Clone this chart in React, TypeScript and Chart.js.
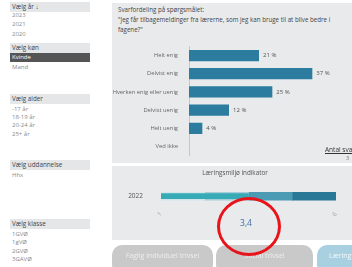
import React, { useEffect, useRef } from "react";
import { Chart, registerables } from "chart.js";

Chart.register(...registerables);

const answerCategories = ["Helt enig", "Delvist enig", "Hverken enig eller uenig", "Delvist uenig", "Helt uenig", "Ved ikke"];
const answerShares = [21, 37, 25, 12, 4, 0];

const indicatorYears = ["2022"];
const indicatorValue = 3.4;
const indicatorBands = [1.0, 2.2, 3.4, 4.6, 5.8];
const bandColors = ["#d3e6ec", "#a7cedb", "#4b9bb5", "#2a7898"];

const yearOptions = ["2023", "2021", "2020"];
const genderOptions = ["Kvinde", "Mand"];
const ageOptions = ["-17 år", "18-19 år", "20-24 år", "25+ år"];
const educationOptions = ["Hhx"];
const classOptions = ["1GVØ", "1gVØ", "2GVØ", "3GAVØ"];
const buttonLabels = ["Faglig individuel trivsel", "Social trivsel", "Læringsmiljø"];

const FONT = "'Open Sans', 'Noto Sans', sans-serif";

const valueLabelPlugin = {
  id: "valueLabels",
  afterDatasetsDraw(chart: any) {
    const ctx = chart.ctx;
    const meta = chart.getDatasetMeta(0);
    ctx.save();
    ctx.font = `6px ${FONT}`;
    ctx.fillStyle = "#555";
    ctx.textBaseline = "middle";
    ctx.textAlign = "left";
    meta.data.forEach((bar: any, i: number) => {
      const v = answerShares[i];
      if (!v) return;
      ctx.fillText(`${v} %`, bar.x + 4, bar.y);
    });
    ctx.restore();
  },
};

function Sidebar() {
  const header = (text: string, top: number, h = 10) => (
    <div key={text} style={{ position: "absolute", left: 10, top, width: 80, height: h, background: "#e4e6e8", color: "#444", fontSize: 6.3, lineHeight: `${h}px`, paddingLeft: 2, boxSizing: "border-box" }}>{text}</div>
  );
  const item = (text: string, top: number, selected = false) => (
    <div key={text + top} style={{ position: "absolute", left: 10, top, width: 80, height: 9, background: selected ? "#555" : "transparent", color: selected ? "#fff" : "#8a8a8a", fontSize: 6, lineHeight: "9px", paddingLeft: 2, boxSizing: "border-box" }}>{text}</div>
  );
  return (
    <>
      {header("Vælg år ↓", 2)}
      {yearOptions.map((t, i) => item(t, 11 + i * 9.3))}
      {header("Vælg køn", 43)}
      {item(genderOptions[0], 53, true)}
      {item(genderOptions[1], 63)}
      {header("Vælg alder", 94)}
      {ageOptions.map((t, i) => item(t, 105 + i * 8.2))}
      {header("Vælg uddannelse", 160)}
      {educationOptions.map((t, i) => item(t, 171 + i * 8.2))}
      {header("Vælg klasse", 219)}
      {classOptions.map((t, i) => item(t, 230 + i * 8.3))}
    </>
  );
}

export default function App() {
  const barRef = useRef<HTMLCanvasElement>(null);
  const indRef = useRef<HTMLCanvasElement>(null);

  useEffect(() => {
    const bar = new Chart(barRef.current!, {
      type: "bar",
      data: {
        labels: answerCategories,
        datasets: [{ data: answerShares, backgroundColor: "#2b7c9e", barPercentage: 0.62, categoryPercentage: 1 }],
      },
      options: {
        indexAxis: "y",
        animation: false,
        responsive: false,
        layout: { padding: { top: 4, right: 13, bottom: 4, left: 0 } },
        plugins: { legend: { display: false }, tooltip: { enabled: false } },
        scales: {
          x: { display: false, min: 0, max: 45 },
          y: {
            afterFit: (s: any) => { s.width = 77; },
            grid: { display: false },
            border: { display: true, color: "#c4c6c8" },
            ticks: { color: "#666", font: { size: 5.8, family: FONT }, padding: 3 },
          },
        },
      },
      plugins: [valueLabelPlugin],
    });

    const bandDatasets = bandColors.map((c, i) => ({
      data: [[indicatorBands[i], indicatorBands[i + 1]]],
      backgroundColor: c,
      barThickness: 17,
      grouped: false,
    }));
    const ind = new Chart(indRef.current!, {
      type: "bar",
      data: {
        labels: indicatorYears,
        datasets: [
          { data: [[indicatorBands[0], indicatorValue]], backgroundColor: "#36aab5", barThickness: 5, grouped: false } as any,
          ...bandDatasets,
        ],
      },
      options: {
        indexAxis: "y",
        animation: false,
        responsive: false,
        layout: { padding: { top: 0, right: 16, bottom: 0, left: 0 } },
        plugins: { legend: { display: false }, tooltip: { enabled: false } },
        scales: {
          x: {
            min: indicatorBands[0],
            max: indicatorBands[indicatorBands.length - 1],
            grid: { display: false },
            border: { display: false },
            afterBuildTicks: (s: any) => { s.ticks = [{ value: s.min }, { value: s.max }]; },
            ticks: {
              color: "#999",
              font: { size: 6, family: FONT },
              maxRotation: 45,
              minRotation: 45,
              padding: 2,
              autoSkip: false,
              callback: (v: any) => String(Number(v).toFixed(0)),
            },
          },
          y: {
            afterFit: (s: any) => { s.width = 49; },
            grid: { display: false },
            border: { display: false },
            ticks: { color: "#555", font: { size: 6.5, family: FONT }, padding: 10 },
          },
        },
      },
    });
    return () => { bar.destroy(); ind.destroy(); };
  }, []);

  return (
    <div style={{ position: "fixed", left: 0, top: 0, width: 352, height: 267, overflow: "hidden", background: "#fff", fontFamily: FONT }}>
      <Sidebar />
      <div style={{ position: "absolute", left: 112, top: 3, width: 240, height: 160, background: "#e8eaec" }} />
      <div style={{ position: "absolute", left: 112, top: 166, width: 240, height: 74, background: "#e8eaec" }} />
      <div style={{ position: "absolute", left: 118, top: 5, width: 232, color: "#444", fontSize: 6.2, lineHeight: "10px", whiteSpace: "nowrap" }}>
        Svarfordeling på spørgsmålet:<br />
        "Jeg får tilbagemeldinger fra lærerne, som jeg kan bruge til at blive bedre i<br />
        fagene?"
      </div>
      <canvas ref={barRef} width={240} height={122} style={{ position: "absolute", left: 112, top: 40, width: 240, height: 122 }} />
      <div style={{ position: "absolute", left: 325, top: 145, color: "#333", fontSize: 6.5, textDecoration: "underline", whiteSpace: "nowrap" }}>Antal svar</div>
      <div style={{ position: "absolute", left: 346, top: 154, color: "#777", fontSize: 5.5, whiteSpace: "nowrap" }}>3</div>
      <div style={{ position: "absolute", left: 112, top: 168, width: 246, textAlign: "center", color: "#555", fontSize: 6.3 }}>Læringsmiljø indikator</div>
      <canvas ref={indRef} width={240} height={42} style={{ position: "absolute", left: 112, top: 178, width: 240, height: 42 }} />
      <div style={{ position: "absolute", left: 226, top: 217, width: 40, textAlign: "center", color: "#3f6ea6", fontSize: 8.5 }}>3,4</div>
      <div style={{ position: "absolute", left: 112, top: 245, width: 101, height: 30, borderRadius: 10, background: "#c9c9c9", color: "#eee", fontSize: 7, lineHeight: "22px", textAlign: "center", whiteSpace: "nowrap" }}>{buttonLabels[0]}</div>
      <div style={{ position: "absolute", left: 216, top: 245, width: 97, height: 30, borderRadius: 10, background: "#c9c9c9", color: "#eee", fontSize: 7, lineHeight: "22px", textAlign: "center", whiteSpace: "nowrap" }}>{buttonLabels[1]}</div>
      <div style={{ position: "absolute", left: 317, top: 245, width: 90, height: 30, borderRadius: 10, background: "#a9d0e0", color: "#f4f9fb", fontSize: 7, lineHeight: "22px", paddingLeft: 12, boxSizing: "border-box", whiteSpace: "nowrap" }}>{buttonLabels[2]}</div>
      <div style={{ position: "absolute", left: 217, top: 197, width: 64, height: 59, borderRadius: "50%", border: "3px solid #e8141b", boxSizing: "border-box" }} />
    </div>
  );
}
